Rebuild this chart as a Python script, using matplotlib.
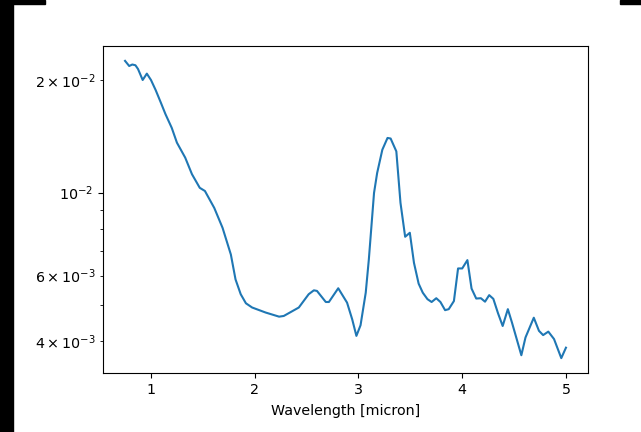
import matplotlib
matplotlib.use("Agg")
import matplotlib.pyplot as plt
from matplotlib.patches import Rectangle

wavelength = [0.75, 0.79, 0.82, 0.85, 0.875, 0.92, 0.96, 1.0, 1.045, 1.095, 1.14, 1.2,
              1.25, 1.33, 1.395, 1.47, 1.52, 1.61, 1.69, 1.77, 1.815, 1.865, 1.915, 1.975,
              2.105, 2.235, 2.28, 2.425, 2.52, 2.57, 2.6, 2.685, 2.715, 2.805, 2.89, 2.94,
              2.98, 3.02, 3.07, 3.10, 3.15, 3.18, 3.23, 3.28, 3.31, 3.365, 3.405, 3.45,
              3.495, 3.535, 3.58, 3.62, 3.665, 3.705, 3.75, 3.79, 3.835, 3.87, 3.92, 3.96,
              4.0, 4.05, 4.09, 4.135, 4.18, 4.22, 4.26, 4.30, 4.345, 4.39, 4.44, 4.48,
              4.57, 4.61, 4.69, 4.74, 4.78, 4.83, 4.885, 4.955, 5.0]
flux = [0.0225, 0.0218, 0.0220, 0.0219, 0.0214, 0.0200, 0.0208, 0.0200, 0.0188, 0.0174,
        0.0162, 0.0149, 0.0136, 0.0124, 0.0112, 0.0103, 0.0101, 0.0091, 0.00805, 0.00683,
        0.00586, 0.00535, 0.00506, 0.00493, 0.00478, 0.00466, 0.00468, 0.00493, 0.00535,
        0.00548, 0.00546, 0.0051, 0.0051, 0.00555, 0.00508, 0.00458, 0.00414, 0.00442,
        0.0054, 0.00663, 0.00998, 0.01128, 0.01302, 0.0140, 0.01395, 0.01289, 0.00939,
        0.00762, 0.00781, 0.00649, 0.00571, 0.0054, 0.00519, 0.0051, 0.00522, 0.0051,
        0.00485, 0.00488, 0.00513, 0.00627, 0.00627, 0.0066, 0.00554, 0.00521, 0.00522,
        0.00511, 0.00532, 0.0052, 0.00476, 0.0044, 0.00488, 0.00449, 0.003675, 0.0041,
        0.00463, 0.00427, 0.00416, 0.00425, 0.00406, 0.00361, 0.00385]

plt.rcParams["font.size"] = 10.3

W, H = 641, 432
fig = plt.figure(figsize=(W / 100, H / 100), dpi=100)
ax = fig.add_axes([103 / W, 1 - 373 / H, (588 - 103) / W, (373 - 46) / H])
ax.plot(wavelength, flux, color="#1f77b4", lw=1.5)
ax.set_yscale("log")
ax.set_xlabel("Wavelength [micron]", labelpad=5)

# black border artifacts
for (x0, y0, w, h) in [(0, 0, 13, 432), (0, 0, 45, 4), (620, 0, 21, 4)]:
    fig.patches.append(Rectangle((x0 / W, 1 - (y0 + h) / H), w / W, h / H,
                                 transform=fig.transFigure, color="black", zorder=10))

fig.savefig("out.png", dpi=100)
